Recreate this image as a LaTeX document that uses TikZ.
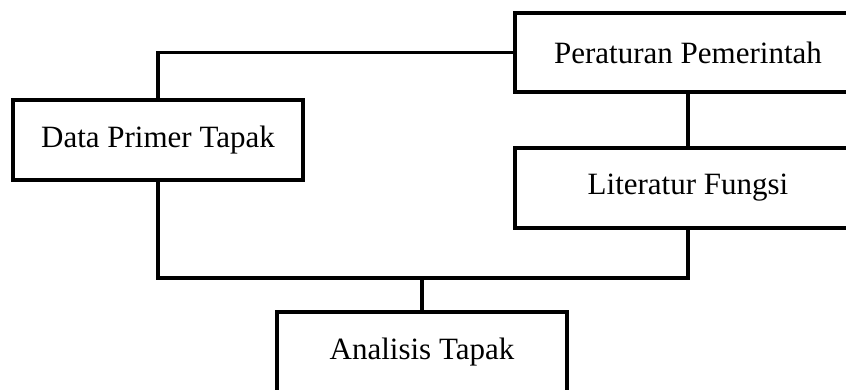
\documentclass[tikz,border=0pt]{standalone}
\usepackage{fontspec}
\setmainfont{Liberation Serif}

\begin{document}
\begin{tikzpicture}
  [x=1pt,y=-1pt,line width=3.4pt,
   every node/.style={draw,rectangle,inner sep=0pt,font=\fontsize{31}{37}\selectfont}]
  \clip (0,0) rectangle (846,390);
  \useasboundingbox (0,0) rectangle (846,390);
  \node[minimum width=290pt,minimum height=80pt] (primer) at (158,140) {Data Primer Tapak};
  \node[minimum width=346pt,minimum height=79pt] (perat) at (688,52.5) {Peraturan Pemerintah};
  \node[minimum width=346pt,minimum height=80pt] (lit) at (688,188) {Literatur Fungsi};
  \node[minimum width=290pt,minimum height=80pt] (anal) at (422,352) {Analisis Tapak};
  \coordinate (mid) at (422,278);

  \draw (primer.north) |- (perat.west);
  \draw (perat) -- (lit);
  \draw (primer.south) |- (mid) -| (lit.south);
  \draw (mid) -- (anal);

\end{tikzpicture}
\end{document}
